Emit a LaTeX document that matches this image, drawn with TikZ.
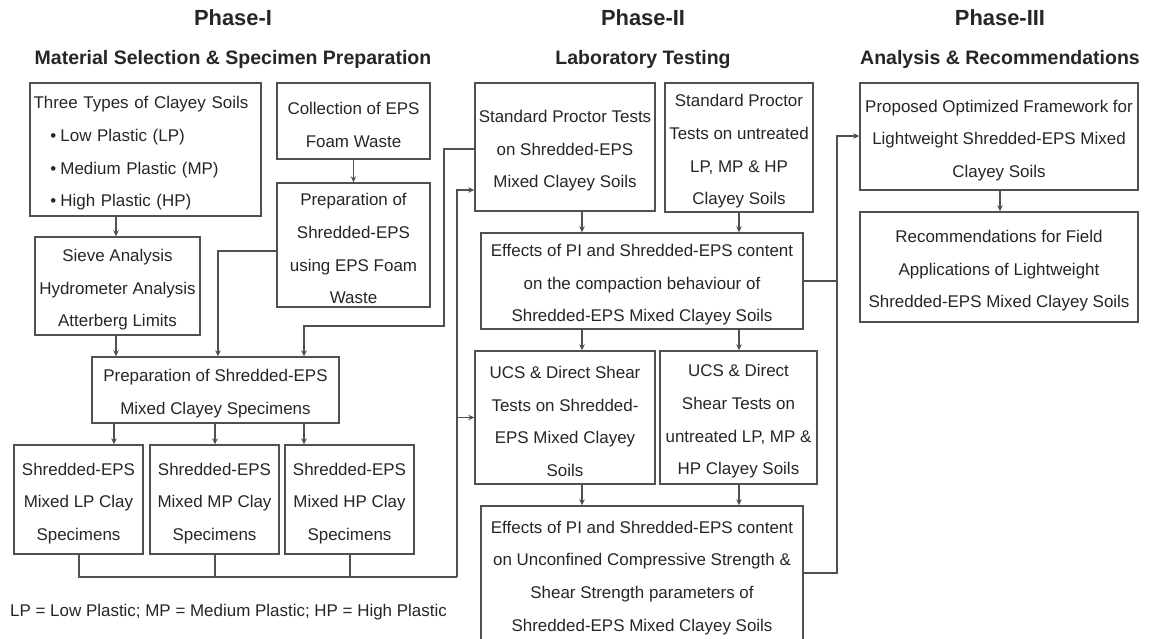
\documentclass[tikz,border=0pt]{standalone}
\usepackage{fontspec}
\setmainfont{Liberation Sans}
\usetikzlibrary{arrows.meta,calc}
\definecolor{linec}{HTML}{505050}
\definecolor{txtc}{HTML}{262626}
\newcommand{\bodyfnt}{\fontsize{16.95}{32.7}\selectfont}
\newcommand{\fs}{\rule{0pt}{20pt}}
\begin{document}
\begin{tikzpicture}[x=1pt,y=-1pt,
  box/.style={draw=linec, line width=1.4pt, align=center, inner sep=0pt, text=txtc, font=\bodyfnt},
  conn/.style={draw=linec, line width=1.3pt},
  arr/.style={conn, -{Stealth[length=6pt,width=5.5pt]}},
  ttl/.style={text=txtc, font=\fontsize{21.9}{24}\selectfont\bfseries, inner sep=0pt},
  sub/.style={text=txtc, font=\fontsize{19.5}{22}\selectfont\bfseries, inner sep=0pt}]
\useasboundingbox[fill=white] (0,0) rectangle (1149,638);

% titles
\node[ttl] (t1) at (233,18) {Phase-I};
\node[sub] (s1) at (233,59) {Material Selection \& Specimen Preparation};
\node[ttl] (t2) at (643,18) {Phase-II};
\node[sub] (s2) at (643,59) {Laboratory Testing};
\node[ttl] (t3) at (1000,18) {Phase-III};
\node[sub] (s3) at (1000,59) {Analysis \& Recommendations};

% Phase I
\node[box, minimum width=231pt, minimum height=133pt, text width=224pt, align=left] (types) at (145.5,149.5)
 {\fs Three Types of Clayey Soils\\
  \hspace*{17pt}•\hspace{4pt}Low Plastic (LP)\\
  \hspace*{17pt}•\hspace{4pt}Medium Plastic (MP)\\
  \hspace*{17pt}•\hspace{4pt}High Plastic (HP)};
\node[box, minimum width=153pt, minimum height=76pt] (collect) at (353.5,121) {\fs Collection of EPS\\Foam Waste};
\node[box, minimum width=153pt, minimum height=124pt] (prepeps) at (353.5,245) {\fs Preparation of\\Shredded-EPS\\using EPS Foam\\Waste};
\node[box, minimum width=165pt, minimum height=98pt] (sieve) at (117.5,286) {\fs Sieve Analysis\\Hydrometer Analysis\\Atterberg Limits};
\node[box, minimum width=247pt, minimum height=66pt] (prepmix) at (215.5,390) {\fs Preparation of Shredded-EPS\\Mixed Clayey Specimens};
\node[box, minimum width=129pt, minimum height=109pt] (specLP) at (78.5,499.5) {\fs Shredded-EPS\\Mixed LP Clay\\Specimens};
\node[box, minimum width=129pt, minimum height=109pt] (specMP) at (214.5,499.5) {\fs Shredded-EPS\\Mixed MP Clay\\Specimens};
\node[box, minimum width=129pt, minimum height=109pt] (specHP) at (349.5,499.5) {\fs Shredded-EPS\\Mixed HP Clay\\Specimens};
\node[text=txtc, font=\bodyfnt, anchor=west, inner sep=0pt] (note) at (10,612) {LP = Low Plastic; MP = Medium Plastic; HP = High Plastic};

% Phase II
\node[box, minimum width=180pt, minimum height=128pt] (procS) at (565,147) {\fs Standard Proctor Tests\\on Shredded-EPS\\Mixed Clayey Soils};
\node[box, minimum width=148pt, minimum height=129pt] (procU) at (739,147.5) {\fs Standard Proctor\\Tests on untreated\\LP, MP \& HP\\Clayey Soils};
\node[box, minimum width=322pt, minimum height=96pt] (effC) at (642,281) {\fs Effects of PI and Shredded-EPS content\\on the compaction behaviour of\\Shredded-EPS Mixed Clayey Soils};
\node[box, minimum width=180pt, minimum height=133pt] (ucsS) at (565,417.5) {\fs UCS \& Direct Shear\\Tests on Shredded-\\EPS Mixed Clayey\\Soils};
\node[box, minimum width=157pt, minimum height=133pt] (ucsU) at (738.5,417.5) {\fs UCS \& Direct\\Shear Tests on\\untreated LP, MP \&\\HP Clayey Soils};
\node[box, minimum width=322pt, minimum height=136pt] (effU) at (642,574) {\fs Effects of PI and Shredded-EPS content\\on Unconfined Compressive Strength \&\\Shear Strength parameters of\\Shredded-EPS Mixed Clayey Soils};

% Phase III
\node[box, minimum width=278pt, minimum height=107pt] (prop) at (999,136.5) {\fs Proposed Optimized Framework for\\Lightweight Shredded-EPS Mixed\\Clayey Soils};
\node[box, minimum width=278pt, minimum height=110pt] (rec) at (999,267) {\fs Recommendations for Field\\Applications of Lightweight\\Shredded-EPS Mixed Clayey Soils};

% junction coordinates
\coordinate (busR) at (457,577);
\coordinate (pj) at (837,281);

% Phase I connectors
\draw[arr] (types.south -| 116,0) -- (sieve.north -| 116,0);
\draw[arr] (sieve.south -| 116,0) -- (prepmix.north -| 116,0);
\draw[arr] (collect.south) -- (prepeps.north);
\draw[arr] (prepeps.west |- 0,251) -| (prepmix.north -| 218,0);
\draw[arr] (procS.west |- 0,149) -| (444,326) -| (prepmix.north -| 304,0);
\draw[arr] (prepmix.south -| 114,0) -- (specLP.north -| 114,0);
\draw[arr] (prepmix.south -| 215,0) -- (specMP.north -| 215,0);
\draw[arr] (prepmix.south -| 304,0) -- (specHP.north -| 304,0);
\draw[conn] (specLP.south -| 79,0) -- (79,577) -- (busR);
\draw[conn] (specMP.south -| 215,0) -- (215,577);
\draw[conn] (specHP.south -| 350,0) -- (350,577);
\draw[arr] (busR) -- (457,190) -- (procS.west |- 0,190);
\draw[arr] (457,417.5) -- (ucsS.west);

% Phase II connectors
\draw[arr] (procS.south -| 582,0) -- (effC.north -| 582,0);
\draw[arr] (procU.south -| 739,0) -- (effC.north -| 739,0);
\draw[arr] (effC.south -| 582,0) -- (ucsS.north -| 582,0);
\draw[arr] (effC.south -| 739,0) -- (ucsU.north -| 739,0);
\draw[arr] (ucsS.south -| 582,0) -- (effU.north -| 582,0);
\draw[arr] (ucsU.south -| 739,0) -- (effU.north -| 739,0);

% to Phase III
\draw[conn] (effC.east) -- (pj);
\draw[conn] (effU.east |- 0,573) -| (pj);
\draw[arr] (pj) |- (prop.west |- 0,136);
\draw[arr] (prop.south -| 1000,0) -- (rec.north -| 1000,0);
\end{tikzpicture}
\end{document}
